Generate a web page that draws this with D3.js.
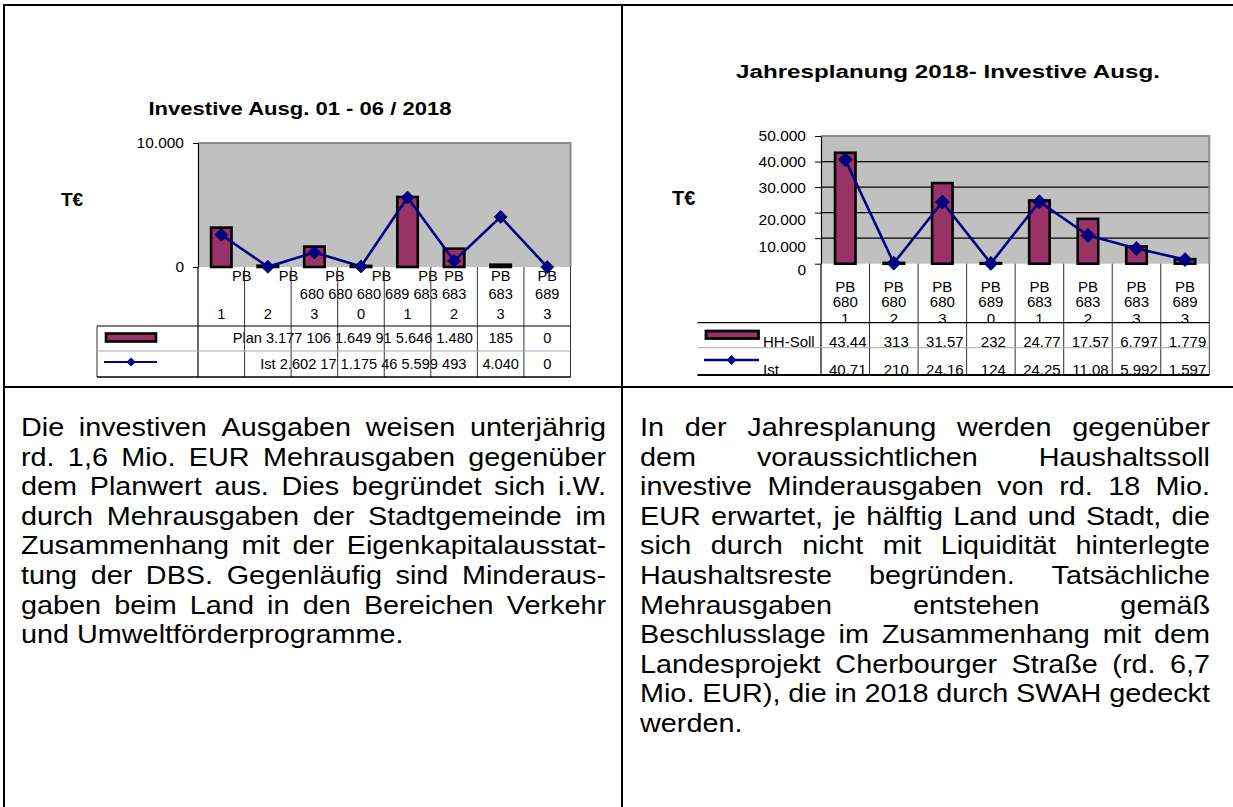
<!DOCTYPE html>
<html><head><meta charset="utf-8">
<script src="https://cdn.jsdelivr.net/npm/d3@7"></script>
<style>
html,body{margin:0;padding:0;background:#fff;}
svg{display:block;}
text{font-family:"Liberation Sans",Arial,Helvetica,sans-serif;fill:#000;}
</style></head><body>
<svg id="c" width="1233" height="807"></svg>
<script>
// ---------- DATA ----------
const categories = ["PB 6801","PB 6802","PB 6803","PB 6890","PB 6831","PB 6832","PB 6833","PB 6893"];
const planH1 = [3177,106,1649,91,5646,1480,185,0];
const istH1  = [2602,17,1175,46,5599,493,4040,0];
const hhSoll  = [43440,313,31570,232,24770,17570,6797,1779];
const istYear = [40710,210,24160,124,24250,11080,5992,1597];
const ticksH1   = [0,10000];
const ticksYear = [0,10000,20000,30000,40000,50000];
const titleH1   = "Investive Ausg. 01 - 06 / 2018";
const titleYear = "Jahresplanung 2018- Investive Ausg.";
const unitLabel = "T€";
const seriesH1   = ["Plan","Ist"];
const seriesYear = ["HH-Soll","Ist"];
const textLeft = [
 "Die investiven Ausgaben weisen unterjährig",
 "rd. 1,6 Mio. EUR Mehrausgaben gegenüber",
 "dem Planwert aus. Dies begründet sich i.W.",
 "durch Mehrausgaben der Stadtgemeinde im",
 "Zusammenhang mit der Eigenkapitalausstat-",
 "tung der DBS. Gegenläufig sind Minderaus-",
 "gaben beim Land in den Bereichen Verkehr",
 "und Umweltförderprogramme."];
const textRight = [
 "In der Jahresplanung werden gegenüber",
 "dem voraussichtlichen Haushaltssoll",
 "investive Minderausgaben von rd. 18 Mio.",
 "EUR erwartet, je hälftig Land und Stadt, die",
 "sich durch nicht mit Liquidität hinterlegte",
 "Haushaltsreste begründen. Tatsächliche",
 "Mehrausgaben entstehen gemäß",
 "Beschlusslage im Zusammenhang mit dem",
 "Landesprojekt Cherbourger Straße (rd. 6,7",
 "Mio. EUR), die in 2018 durch SWAH gedeckt",
 "werden."];

// ---------- STYLE ----------
const PLUM="#993366", NAVY="#000080", PLOT_BG="#c0c0c0", PLOT_EDGE="#8c8c8c";
const BODY_FONT=25.5, BODY_STRETCH=1.13, BODY_LH=29.6;
const de = d3.formatLocale({decimal:",",thousands:".",grouping:[3],currency:["","€"]});
const fmt = de.format(",d");
const svg = d3.select("#c");
svg.append("rect").attr("width",1233).attr("height",807).attr("fill","#fff");
const defs = svg.append("defs");
function clip(id,x,y,w,h){defs.append("clipPath").attr("id",id).append("rect").attr("x",x).attr("y",y).attr("width",w).attr("height",h);}
function diamond(r){return `M0,${-r}L${r},0L0,${r}L${-r},0Z`;}
function hline(g,x0,x1,y,col,w){g.append("line").attr("x1",x0).attr("x2",x1).attr("y1",y).attr("y2",y).attr("stroke",col).attr("stroke-width",w);}
function vline(g,x,y0,y1,col,w){g.append("line").attr("x1",x).attr("x2",x).attr("y1",y0).attr("y2",y1).attr("stroke",col).attr("stroke-width",w);}
function title(g,txt,cx,y,size,width){
  g.append("text").attr("x",cx-width/2).attr("y",y).attr("font-weight","bold").attr("font-size",size)
   .attr("textLength",width).attr("lengthAdjust","spacingAndGlyphs").text(txt);
}

function plotBase(g,L,R,T,B,x,y,bars,grid,ticks){
  g.append("rect").attr("x",L).attr("y",T).attr("width",R-L).attr("height",B-T).attr("fill",PLOT_BG);
  if(grid) g.selectAll("line.grid").data(ticks.filter(t=>t>0&&t<y.domain()[1])).join("line")
     .attr("x1",L).attr("x2",R).attr("y1",d=>y(d)).attr("y2",d=>y(d)).attr("stroke","#000").attr("stroke-width",1.2);
  g.append("path").attr("d",`M${L},${T}H${R}V${B}`).attr("fill","none").attr("stroke",PLOT_EDGE).attr("stroke-width",2);
  const bw=x.bandwidth();
  g.selectAll("rect.bar").data(bars).join("rect")
    .attr("x",(d,i)=>x(categories[i])+bw/2-10.25).attr("width",20.5)
    .attr("y",d=>y(d)).attr("height",d=>Math.max(0,y(0)-y(d)))
    .attr("fill",PLUM).attr("stroke","#000").attr("stroke-width",2.6);
}
function plotLine(g,x,y,vals,r){
  const bw=x.bandwidth();
  const line=d3.line().x((d,i)=>x(categories[i])+bw/2).y(d=>y(d));
  g.append("path").attr("d",line(vals)).attr("fill","none").attr("stroke",NAVY).attr("stroke-width",2.6);
  g.selectAll("path.pt").data(vals).join("path")
    .attr("transform",(d,i)=>`translate(${x(categories[i])+bw/2},${y(d)})`)
    .attr("d",diamond(r)).attr("fill",NAVY).attr("stroke","#00005a").attr("stroke-width",0.8);
}

// ---------- FRAME ----------
const frame = svg.append("g");
hline(frame,3,1233,5,"#000",2);
vline(frame,4,4,807,"#000",2);
vline(frame,622,4,807,"#000",2);
hline(frame,3,1233,387,"#000",2);

// ---------- CHART 1 ----------
(function(){
  const L=198,R=570.5,T=143,B=267,catB=326,r1B=351,r2B=377,legL=97;
  const x=d3.scaleBand().domain(categories).range([L,R]);
  const bw=x.bandwidth();
  const cx=c=>x(c)+bw/2;
  const y=d3.scaleLinear().domain([0,10000]).range([B,T]);
  const g=svg.append("g");
  title(g,titleH1,300,115,18,303);
  g.append("text").attr("x",61).attr("y",206).attr("font-weight","bold").attr("font-size",19).text(unitLabel);
  plotBase(g,L,R,T,B,x,y,planH1,false,ticksH1);
  clip("cat1",L,B+1,R-L,catB-B-1);
  const OVER=5; // first labels overflow their cells
  const tg=g.append("g").attr("clip-path","url(#cat1)").attr("font-size",14.6);
  categories.forEach((c,i)=>{
    const [pre,num]=c.split(" ");
    if(i<OVER){
      tg.append("text").attr("x",x(c)+bw+7).attr("y",281).attr("text-anchor","end").text(pre);
    } else {
      tg.append("text").attr("x",cx(c)).attr("y",281).attr("text-anchor","middle").text(pre);
      tg.append("text").attr("x",cx(c)).attr("y",298.5).attr("text-anchor","middle").text(num.slice(0,3));
    }
    tg.append("text").attr("x",cx(c)).attr("y",318.5).attr("text-anchor","middle").text(num.slice(3));
  });
  tg.append("text").attr("x",x(categories[OVER-1])+bw+7).attr("y",298.5).attr("text-anchor","end")
    .text(categories.slice(0,OVER).map(c=>c.split(" ")[1].slice(0,3)).join(" "));
  const dg=g.append("g").attr("font-size",14.6);
  const SPLIT=6;
  dg.append("text").attr("x",x(categories[SPLIT-1])+bw-4.5).attr("y",343).attr("text-anchor","end")
    .text([seriesH1[0]].concat(planH1.slice(0,SPLIT).map(fmt)).join(" "));
  dg.append("text").attr("x",x(categories[SPLIT-1])+bw-11).attr("y",368.5).attr("text-anchor","end")
    .text([seriesH1[1]].concat(istH1.slice(0,SPLIT).map(fmt)).join(" "));
  categories.slice(SPLIT).forEach((c,k)=>{
    dg.append("text").attr("x",cx(c)).attr("y",343).attr("text-anchor","middle").text(fmt(planH1[SPLIT+k]));
    dg.append("text").attr("x",cx(c)).attr("y",368.5).attr("text-anchor","middle").text(fmt(istH1[SPLIT+k]));
  });
  const lg=g.append("g");
  categories.forEach(c=>vline(lg,x(c)+bw,B,r2B,"#333",1));
  vline(lg,L,B,r2B,"#000",1.2);
  vline(lg,legL,catB,r2B,"#333",1);
  hline(lg,legL,R,catB,"#000",1.2);
  hline(lg,legL,R,r1B,"#aaa",1);
  hline(lg,legL,R,r2B,"#000",1.6);
  g.append("rect").attr("x",106).attr("y",333.5).attr("width",50).attr("height",8).attr("fill",PLUM).attr("stroke","#000").attr("stroke-width",2.6);
  hline(g,104,157,362,NAVY,2.2);
  g.append("path").attr("transform","translate(131,362)").attr("d",diamond(4.5)).attr("fill",NAVY);
  const ax=d3.axisLeft(y).tickValues(ticksH1).tickFormat(fmt).tickSize(5).tickPadding(9).tickSizeOuter(0);
  const ag=g.append("g").attr("transform",`translate(${L},0)`).call(ax);
  ag.selectAll("text").attr("font-size",15.5).attr("font-family",'"Liberation Sans",Arial,sans-serif').attr("fill","#000");
  ag.selectAll("line").attr("stroke","#000");
  ag.select(".domain").attr("stroke","#000").attr("stroke-width",1.2);
  plotLine(g,x,y,istH1,6.5);
})();

// ---------- CHART 2 ----------
(function(){
  const L=821,R=1209.3,T=136,B=263.7,catB=322.7,r1B=347.7,r2B=375,legL=697.5;
  const x=d3.scaleBand().domain(categories).range([L,R]);
  const bw=x.bandwidth();
  const cx=c=>x(c)+bw/2;
  const y=d3.scaleLinear().domain([0,50000]).range([B,T]);
  const g=svg.append("g");
  title(g,titleYear,948,78,18,424);
  g.append("text").attr("x",672).attr("y",205).attr("font-weight","bold").attr("font-size",20).text(unitLabel);
  plotBase(g,L,R,T,B,x,y,hhSoll,true,ticksYear);
  clip("cat2",L,B+1,R-L,catB-B-1);
  const tg=g.append("g").attr("clip-path","url(#cat2)").attr("font-size",15).attr("text-anchor","middle");
  categories.forEach(c=>{
    const [pre,num]=c.split(" ");
    tg.append("text").attr("x",cx(c)).attr("y",291.5).text(pre);
    tg.append("text").attr("x",cx(c)).attr("y",307).text(num.slice(0,3));
    tg.append("text").attr("x",cx(c)).attr("y",323.5).text(num.slice(3));
  });
  clip("dat2",legL-2,catB,R-legL+4,r2B-catB);
  const dg=g.append("g").attr("clip-path","url(#dat2)").attr("font-size",15);
  const cut=s=>s.slice(0,5); // cell width shows at most five characters
  categories.forEach((c,i)=>{
    dg.append("text").attr("x",cx(c)+2.5).attr("y",346.5).attr("text-anchor","middle").text(cut(fmt(hhSoll[i])));
    dg.append("text").attr("x",cx(c)+2.5).attr("y",375).attr("text-anchor","middle").text(cut(fmt(istYear[i])));
  });
  dg.append("text").attr("x",763).attr("y",346.5).text(seriesYear[0]);
  dg.append("text").attr("x",763).attr("y",375).text(seriesYear[1]);
  const lg=g.append("g");
  categories.forEach(c=>vline(lg,x(c)+bw,B,r2B,"#333",1));
  vline(lg,L,B,r2B,"#000",1.2);
  hline(lg,legL,R,catB,"#000",1.2);
  hline(lg,legL,R,r1B,"#aaa",1);
  hline(lg,legL,R,r2B,"#000",1.8);
  g.append("rect").attr("x",706).attr("y",331).attr("width",52.5).attr("height",7.5).attr("fill",PLUM).attr("stroke","#000").attr("stroke-width",2.8);
  hline(g,704,759,360,NAVY,2.4);
  g.append("path").attr("transform","translate(731.5,360)").attr("d",diamond(5)).attr("fill",NAVY);
  const shift={0:6,10000:8,20000:7};
  const ax=d3.axisLeft(y).tickValues(ticksYear).tickFormat(fmt).tickSize(6).tickPadding(9).tickSizeOuter(0);
  const ag=g.append("g").attr("transform",`translate(${L},0)`).call(ax);
  ag.selectAll("text").attr("font-size",15.5).attr("font-family",'"Liberation Sans",Arial,sans-serif').attr("fill","#000")
    .attr("dy",d=>(0.32+(shift[d]||0)/15.5)+"em");
  ag.selectAll("line").attr("stroke","#000");
  ag.select(".domain").attr("stroke","#000").attr("stroke-width",1.2);
  plotLine(g,x,y,istYear,7);
})();

// ---------- BODY TEXT ----------
function paragraph(lines,x0,x1,y0){
  const g=svg.append("g").attr("transform",`scale(${BODY_STRETCH},1)`).attr("font-size",BODY_FONT);
  const probe=g.append("text").text("a a"); const probe2=g.append("text").text("aa");
  const space=probe.node().getComputedTextLength()-probe2.node().getComputedTextLength();
  probe.remove(); probe2.remove();
  const avail=(x1-x0)/BODY_STRETCH;
  lines.forEach((line,i)=>{
    const words=line.split(" ");
    const ts=words.map(w=>g.append("text").attr("y",y0+i*BODY_LH).text(w));
    const ws=ts.map(t=>t.node().getComputedTextLength());
    const justify=i<lines.length-1&&words.length>1;
    const gap=justify?(avail-d3.sum(ws))/(words.length-1):space;
    let cx=x0/BODY_STRETCH;
    ts.forEach((t,k)=>{t.attr("x",cx);cx+=ws[k]+gap;});
  });
}
paragraph(textLeft,21,606,436);
paragraph(textRight,640,1210,436);
</script>
</body></html>
